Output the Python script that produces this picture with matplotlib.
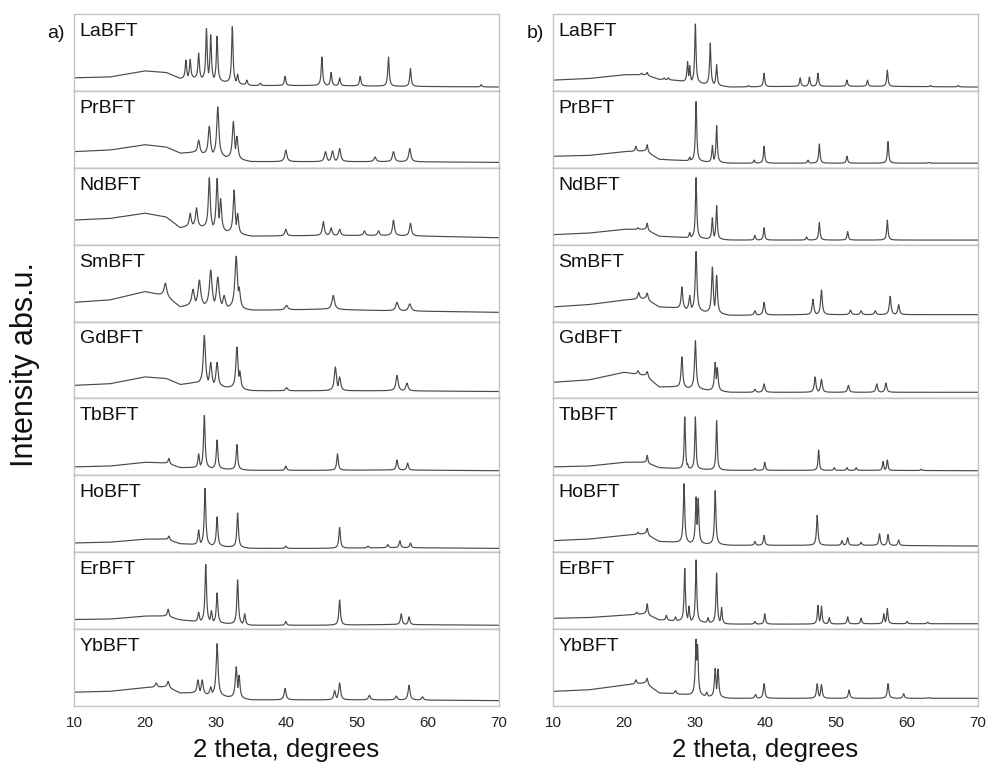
import numpy as np
import matplotlib
matplotlib.use("Agg")
import matplotlib.pyplot as plt

plt.rcParams['font.family'] = ['Liberation Sans', 'DejaVu Sans']

samples = ["LaBFT", "PrBFT", "NdBFT", "SmBFT", "GdBFT",
           "TbBFT", "HoBFT", "ErBFT", "YbBFT"]
x_ticks = [10, 20, 30, 40, 50, 60, 70]

# amorphous background, read at fixed 2-theta knots (panel fraction)
bg_knots = [10, 15, 20, 23, 25, 27, 35, 45, 55, 70]
bg_a = [
    [0.17, 0.18, 0.26, 0.24, 0.16, 0.17, 0.07, 0.07, 0.06, 0.05],
    [0.21, 0.23, 0.30, 0.27, 0.19, 0.20, 0.08, 0.08, 0.08, 0.07],
    [0.32, 0.34, 0.41, 0.36, 0.22, 0.25, 0.11, 0.12, 0.12, 0.09],
    [0.25, 0.28, 0.39, 0.33, 0.19, 0.22, 0.145, 0.16, 0.14, 0.12],
    [0.17, 0.19, 0.28, 0.26, 0.18, 0.20, 0.10, 0.10, 0.10, 0.09],
    [0.11, 0.12, 0.17, 0.16, 0.10, 0.10, 0.065, 0.065, 0.07, 0.06],
    [0.12, 0.13, 0.17, 0.17, 0.11, 0.10, 0.05, 0.05, 0.06, 0.05],
    [0.125, 0.13, 0.17, 0.17, 0.12, 0.10, 0.05, 0.05, 0.06, 0.05],
    [0.18, 0.19, 0.24, 0.25, 0.17, 0.17, 0.08, 0.08, 0.08, 0.07],
]
bg_b = [
    [0.14, 0.16, 0.21, 0.21, 0.15, 0.14, 0.05, 0.06, 0.06, 0.05],
    [0.15, 0.16, 0.21, 0.22, 0.11, 0.10, 0.06, 0.06, 0.06, 0.06],
    [0.13, 0.15, 0.20, 0.20, 0.11, 0.10, 0.06, 0.06, 0.06, 0.06],
    [0.19, 0.22, 0.28, 0.30, 0.19, 0.18, 0.08, 0.09, 0.09, 0.09],
    [0.21, 0.24, 0.34, 0.30, 0.15, 0.15, 0.08, 0.08, 0.08, 0.08],
    [0.11, 0.12, 0.17, 0.17, 0.10, 0.09, 0.065, 0.065, 0.065, 0.06],
    [0.15, 0.17, 0.22, 0.24, 0.14, 0.13, 0.09, 0.09, 0.09, 0.08],
    [0.14, 0.15, 0.18, 0.20, 0.12, 0.11, 0.065, 0.065, 0.07, 0.07],
    [0.19, 0.21, 0.27, 0.30, 0.17, 0.16, 0.10, 0.10, 0.10, 0.10],
]

# reflections: (2-theta, peak top as panel fraction)
peaks_a = [
    [(25.8, 0.40), (26.4, 0.41), (27.6, 0.49), (28.7, 0.81), (29.3, 0.73),
     (30.2, 0.71), (32.35, 0.84), (33.1, 0.22), (34.4, 0.14), (36.3, 0.10),
     (39.8, 0.19), (45.0, 0.44), (46.3, 0.24), (47.5, 0.17), (50.4, 0.19),
     (54.4, 0.44), (57.5, 0.29), (67.5, 0.08)],
    [(27.6, 0.36), (29.1, 0.54), (30.3, 0.79), (32.5, 0.60), (33.0, 0.41),
     (39.9, 0.23), (45.5, 0.21), (46.5, 0.22), (47.5, 0.25), (52.5, 0.14),
     (55.1, 0.21), (57.4, 0.25)],
    [(26.4, 0.41), (27.3, 0.48), (29.1, 0.87), (30.2, 0.86), (30.7, 0.60),
     (32.6, 0.71), (33.1, 0.41), (39.9, 0.20), (45.2, 0.30), (46.3, 0.22),
     (47.5, 0.20), (51.0, 0.18), (53.0, 0.18), (55.1, 0.32), (57.5, 0.28)],
    [(22.9, 0.50), (26.8, 0.42), (27.7, 0.54), (29.3, 0.67), (30.3, 0.58),
     (31.2, 0.34), (32.9, 0.85), (33.3, 0.45), (40.0, 0.21), (46.6, 0.34),
     (55.6, 0.25), (57.4, 0.23)],
    [(28.4, 0.82), (29.3, 0.47), (30.2, 0.47), (33.0, 0.67), (33.4, 0.36),
     (40.0, 0.14), (46.9, 0.41), (47.5, 0.28), (55.6, 0.30), (57.0, 0.20)],
    [(23.4, 0.22), (27.6, 0.28), (28.4, 0.78), (30.2, 0.46), (33.0, 0.40),
     (39.9, 0.12), (47.2, 0.28), (55.6, 0.20), (57.1, 0.16)],
    [(23.4, 0.21), (27.6, 0.29), (28.5, 0.83), (30.2, 0.46), (33.1, 0.51),
     (39.9, 0.08), (47.5, 0.32), (51.5, 0.08), (54.3, 0.10), (56.0, 0.15),
     (57.5, 0.12)],
    [(23.3, 0.26), (27.6, 0.22), (28.6, 0.84), (29.4, 0.24), (30.2, 0.47),
     (33.1, 0.64), (34.1, 0.20), (39.9, 0.10), (47.5, 0.38), (56.2, 0.20),
     (57.3, 0.16)],
    [(21.6, 0.30), (23.3, 0.32), (27.5, 0.34), (28.1, 0.34), (29.3, 0.25),
     (30.2, 0.81), (32.9, 0.51), (33.3, 0.40), (39.8, 0.23), (46.8, 0.20),
     (47.5, 0.30), (51.7, 0.14), (55.5, 0.13), (57.3, 0.27), (59.2, 0.12)],
]
peaks_b = [
    [(22.5, 0.23), (23.3, 0.24), (25.7, 0.17), (26.3, 0.17), (29.0, 0.38),
     (29.3, 0.33), (30.1, 0.87), (32.2, 0.62), (33.1, 0.34), (37.6, 0.07),
     (39.8, 0.23), (44.9, 0.17), (46.2, 0.18), (47.4, 0.23), (51.5, 0.14),
     (54.4, 0.14), (57.2, 0.27), (63.3, 0.07), (67.2, 0.07)],
    [(21.7, 0.28), (23.3, 0.30), (29.3, 0.14), (30.2, 0.86), (32.5, 0.29),
     (33.1, 0.55), (38.4, 0.10), (39.8, 0.28), (46.0, 0.10), (47.6, 0.31),
     (51.5, 0.15), (57.3, 0.34), (63.0, 0.07)],
    [(22.0, 0.22), (23.3, 0.28), (29.3, 0.16), (30.2, 0.87), (32.5, 0.35),
     (33.1, 0.51), (38.5, 0.12), (39.8, 0.22), (45.8, 0.10), (47.6, 0.29),
     (51.6, 0.17), (57.2, 0.32)],
    [(22.1, 0.38), (23.3, 0.37), (28.2, 0.45), (29.3, 0.34), (30.2, 0.91),
     (32.5, 0.71), (33.1, 0.60), (38.5, 0.14), (39.8, 0.25), (46.7, 0.29),
     (47.9, 0.41), (52.0, 0.15), (53.5, 0.14), (55.5, 0.14), (57.6, 0.33),
     (58.8, 0.22)],
    [(22.0, 0.36), (23.3, 0.35), (28.2, 0.54), (30.1, 0.75), (32.9, 0.47),
     (33.2, 0.40), (38.5, 0.12), (39.8, 0.19), (47.0, 0.28), (47.9, 0.25),
     (51.7, 0.17), (55.7, 0.19), (57.0, 0.20)],
    [(23.3, 0.26), (28.6, 0.76), (29.0, 0.15), (30.1, 0.76), (33.1, 0.71),
     (38.5, 0.09), (39.9, 0.17), (47.5, 0.33), (49.7, 0.10), (51.5, 0.10),
     (52.8, 0.10), (56.6, 0.18), (57.2, 0.20), (62.0, 0.08)],
    [(22.0, 0.26), (23.3, 0.31), (28.5, 0.89), (30.2, 0.72), (30.5, 0.70),
     (32.9, 0.80), (38.5, 0.14), (39.8, 0.22), (47.3, 0.48), (50.8, 0.15),
     (51.6, 0.19), (53.5, 0.13), (56.1, 0.24), (57.3, 0.23), (58.8, 0.16)],
    [(21.8, 0.22), (23.3, 0.33), (26.0, 0.18), (27.3, 0.16), (28.6, 0.79),
     (29.2, 0.30), (30.2, 0.90), (31.9, 0.15), (33.1, 0.73), (33.8, 0.28),
     (38.5, 0.10), (39.9, 0.20), (47.4, 0.31), (47.9, 0.30), (49.0, 0.15),
     (51.6, 0.16), (53.5, 0.14), (56.7, 0.20), (57.2, 0.27), (60.0, 0.10),
     (62.9, 0.09)],
    [(21.7, 0.34), (23.3, 0.36), (27.3, 0.20), (30.2, 0.87), (30.4, 0.80),
     (31.7, 0.18), (32.9, 0.49), (33.3, 0.48), (38.6, 0.15), (39.8, 0.29),
     (47.3, 0.29), (47.9, 0.28), (51.8, 0.21), (57.3, 0.29), (59.5, 0.16),
     (63.0, 0.11)],
]

# Lorentzian half widths (degrees) per pattern
width_a = [0.12, 0.18, 0.16, 0.22, 0.18, 0.13, 0.13, 0.13, 0.16]
width_b = [0.11, 0.11, 0.11, 0.14, 0.14, 0.10, 0.12, 0.11, 0.13]


def pattern(tt, bg, peaks, hw):
    base = np.interp(tt, bg_knots, bg)
    env = np.zeros_like(tt)
    for pos, top in peaks:
        amp = top - np.interp(pos, bg_knots, bg)
        env = np.maximum(env, amp * hw ** 2 / ((tt - pos) ** 2 + hw ** 2))
    return base + env


tt = np.arange(10, 70.001, 0.02)

fig = plt.figure(figsize=(9.89, 7.67), dpi=100)

W, H = 989.0, 767.0
top_px, panel_px = 14.0, 692.0 / 9
columns = [(74.0, bg_a, peaks_a, width_a, "a)"),
           (553.0, bg_b, peaks_b, width_b, "b)")]

for left_px, bgs, pks, wids, tag in columns:
    for i, name in enumerate(samples):
        y0 = 1 - (top_px + panel_px * (i + 1)) / H
        ax = fig.add_axes([left_px / W, y0, 425.0 / W, panel_px / H])
        ax.plot(tt, pattern(tt, bgs[i], pks[i], wids[i]),
                color="#4a4a4a", lw=0.85)
        ax.set_xlim(10, 70)
        ax.set_ylim(0, 1)
        ax.set_yticks([])
        for side in ["top", "left", "right"]:
            ax.spines[side].set_color("#c4c4c4")
        ax.spines["bottom"].set_color("#8a8a8a" if i < 8 else "#c4c4c4")
        for sp in ax.spines.values():
            sp.set_linewidth(1.0)
        ax.text(0.013, 0.885, name, transform=ax.transAxes, fontsize=14,
                ha="left", va="top", color="#111111")
        if i < 8:
            ax.set_xticks([])
        else:
            ax.set_xticks(x_ticks)
            ax.tick_params(axis="x", length=0, pad=7, labelsize=11,
                           labelcolor="#222222")
    fig.text((left_px - 9) / W, 1 - 33 / H, tag, fontsize=14,
             ha="right", va="center", color="#111111")
    fig.text((left_px + 212) / W, 1 - 750 / H, "2 theta, degrees",
             fontsize=18.5, ha="center", va="center", color="#111111")

fig.text(25.5 / W, 1 - 365 / H, "Intensity abs.u.", fontsize=22,
         rotation=90, ha="center", va="center", color="#111111")

plt.savefig("out.png", dpi=100)
plt.close()
